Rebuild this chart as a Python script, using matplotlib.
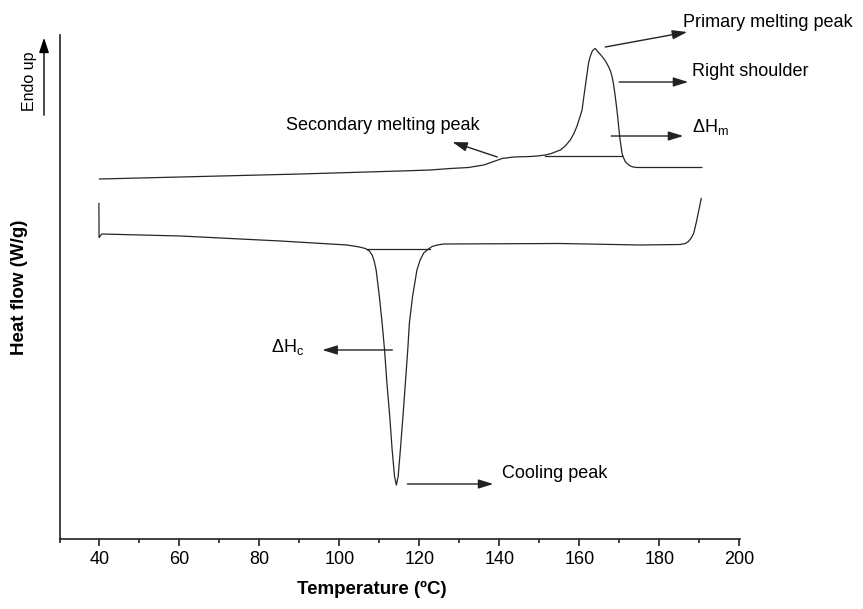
import matplotlib
matplotlib.use("Agg")
import matplotlib.pyplot as plt

plt.rcParams["font.family"] = ["Liberation Sans", "DejaVu Sans"]
plt.rcParams["mathtext.fontset"] = "custom"
plt.rcParams["mathtext.rm"] = "Liberation Sans"
plt.rcParams["mathtext.it"] = "Liberation Sans:italic"

# Heating scan (endotherm up)
heat_T = [40.0, 65.25, 90.25, 115.25, 122.75, 127.75, 132.3, 133.0, 136.1, 138.6,
          140.7, 143.6, 147.75, 149.5, 151.5, 153.0, 155.25, 156.5, 157.75, 158.6,
          159.4, 160.0, 160.7, 161.1, 161.5, 161.9, 162.3, 162.7, 163.2, 163.6,
          164.0, 164.8, 165.4, 166.1, 166.7, 167.3, 167.8, 168.2, 168.6, 169.0,
          169.3, 169.6, 170.1, 170.4, 170.7, 171.1, 171.5, 172.1, 172.75, 173.5,
          174.4, 181.05, 190.65]
heat_flow = [2.42, 2.47, 2.52, 2.58, 2.60, 2.63, 2.65, 2.66, 2.70, 2.77,
             2.83, 2.86, 2.87, 2.88, 2.90, 2.93, 3.00, 3.08, 3.20, 3.32,
             3.47, 3.62, 3.80, 4.04, 4.27, 4.50, 4.73, 4.86, 4.97, 5.01,
             5.03, 4.95, 4.90, 4.83, 4.76, 4.67, 4.58, 4.47, 4.30, 4.07,
             3.88, 3.67, 3.27, 3.10, 2.93, 2.84, 2.77, 2.72, 2.68, 2.66,
             2.65, 2.65, 2.65]

# Cooling scan (exotherm down)
cool_T = [39.85, 39.9, 40.6, 60.25, 85.25, 101.9, 103.5, 105.0, 106.5, 107.5,
          108.2, 108.7, 109.2, 110.0, 110.7, 111.3, 111.9, 112.6, 113.2, 113.8,
          114.25, 114.7, 115.25, 115.9, 116.5, 117.1, 117.5, 118.3, 119.4, 120.2,
          121.1, 122.1, 123.2, 124.5, 126.1, 155.25, 175.25, 185.25, 186.5, 187.3,
          188.0, 188.6, 189.0, 189.4, 189.8, 190.1, 190.5]
cool_flow = [1.93, 1.25, 1.32, 1.28, 1.18, 1.10, 1.08, 1.06, 1.03, 0.98,
             0.90, 0.78, 0.60, 0.07, -0.47, -1.00, -1.67, -2.33, -3.00, -3.53,
             -3.70, -3.53, -3.00, -2.33, -1.67, -1.00, -0.47, 0.07, 0.60, 0.80,
             0.94, 1.01, 1.07, 1.10, 1.12, 1.13, 1.10, 1.11, 1.13, 1.17,
             1.24, 1.33, 1.46, 1.60, 1.76, 1.87, 2.03]

# Integration baselines
melt_base_T = [151.5, 170.75]
melt_base_y = [2.886, 2.886]
cryst_base_T = [107.0, 122.75]
cryst_base_y = [1.02, 1.02]

x_major = [40, 60, 80, 100, 120, 140, 160, 180, 200]
x_minor = [30, 50, 70, 90, 110, 130, 150, 170, 190]

fig = plt.figure(figsize=(8.63, 6.09), dpi=100)
ax = fig.add_axes([59.5 / 863, 1 - 539 / 609, (740 - 59.5) / 863, (539 - 35) / 609])

line_kw = dict(color="#262626", lw=0.9)
ax.plot(heat_T, heat_flow, **line_kw)
ax.plot(cool_T, cool_flow, **line_kw)
ax.plot(melt_base_T, melt_base_y, **line_kw)
ax.plot(cryst_base_T, cryst_base_y, **line_kw)

ax.set_xlim(30, 200.2)
ax.set_ylim(-4.78, 5.3)

for side in ("top", "right"):
    ax.spines[side].set_visible(False)
for side in ("left", "bottom"):
    ax.spines[side].set_linewidth(1.2)
    ax.spines[side].set_color("#222222")

ax.set_xticks(x_major)
ax.set_xticks(x_minor, minor=True)
ax.set_yticks([])
ax.tick_params(axis="x", which="major", direction="out", length=5, width=1.2,
               labelsize=13, pad=4, color="#222222")
ax.tick_params(axis="x", which="minor", direction="out", length=3, width=1.2,
               color="#222222")

ax.set_xlabel("Temperature (ºC)", fontsize=13.5, fontweight="bold")
ax.xaxis.set_label_coords(0.4585, -0.101)
ax.xaxis.label.set_va("center")
ax.set_ylabel("Heat flow (W/g)", fontsize=13.5, fontweight="bold")
ax.yaxis.set_label_coords(-0.0595, 0.5)
ax.yaxis.label.set_va("center")

# "Endo up" direction marker
fig.text(29 / 863, 1 - 81 / 609, "Endo up", rotation=90, ha="center", va="center",
         fontsize=11.5)
fig.add_artist(matplotlib.patches.FancyArrowPatch(
    (44 / 863, 1 - 118 / 609), (44 / 863, 1 - 35 / 609), transform=fig.transFigure,
    arrowstyle="-|>,head_length=0.9,head_width=0.3", mutation_scale=10,
    color="black", lw=1.0))

arrow_kw = dict(arrowstyle="-|>,head_length=0.9,head_width=0.28", mutation_scale=10,
                color="#222222", lw=1.0, shrinkA=0, shrinkB=0)

def note(tail, head):
    ax.annotate("", xy=head, xytext=tail, arrowprops=arrow_kw, annotation_clip=False)

note((166.5, 5.06), (187.0, 5.36))
note((170.0, 4.36), (187.25, 4.36))
note((168.0, 3.28), (186.0, 3.28))
note((139.5, 2.86), (128.25, 3.16))
note((113.25, -1.0), (95.75, -1.0))
note((117.0, -3.68), (138.5, -3.68))

txt_kw = dict(fontsize=13, va="baseline", clip_on=False)
ax.text(186.0, 5.466, "Primary melting peak", ha="left", **txt_kw)
ax.text(188.25, 4.48, "Right shoulder", ha="left", **txt_kw)
ax.text(188.25, 3.354, r"ΔH$_{\mathrm{m}}$", ha="left", **txt_kw)
ax.text(135.0, 3.41, "Secondary melting peak", ha="right", **txt_kw)
ax.text(83.0, -1.046, r"ΔH$_{\mathrm{c}}$", ha="left", **txt_kw)
ax.text(140.75, -3.56, "Cooling peak", ha="left", **txt_kw)

fig.savefig("out.png", dpi=100)
